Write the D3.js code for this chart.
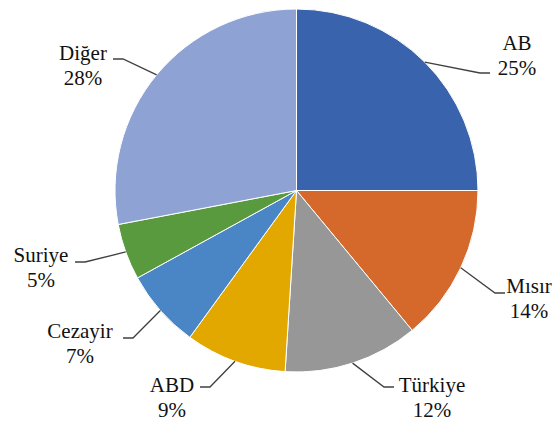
<!DOCTYPE html>
<html>
<head>
<meta charset="utf-8">
<script src="https://cdn.jsdelivr.net/npm/d3@7"></script>
<style>
html,body{margin:0;padding:0;background:#fff;}
svg{display:block;}
</style>
</head>
<body>
<svg id="chart" width="558" height="423"></svg>
<script>
// Data
const categories = ["AB", "Mısır", "Türkiye", "ABD", "Cezayir", "Suriye", "Diğer"];
const values = [25, 14, 12, 9, 7, 5, 28];
const percentLabels = ["25%", "14%", "12%", "9%", "7%", "5%", "28%"];
const colors = ["#3A63AD", "#D4692B", "#979797", "#E2A800", "#4A86C5", "#5A9A3F", "#8FA2D4"];

// Label layout (line end point, text centre, first baseline, elbow direction)
const labelLayout = [
  {ex: 490, ey: 73, tx: 517, ty: 50, elbow: -10},
  {ex: 505, ey: 293, tx: 529, ty: 293, elbow: -10},
  {ex: 394, ey: 387, tx: 432, ty: 392, elbow: -10},
  {ex: 200, ey: 387, tx: 172, ty: 392, elbow: 10},
  {ex: 123, ey: 338, tx: 80, ty: 338, elbow: 10},
  {ex: 75, ey: 262, tx: 41, ty: 262, elbow: 10},
  {ex: 113, ey: 59, tx: 83, ty: 60, elbow: 10}
];

const svg = d3.select("#chart");
const cx = 296.5, cy = 190.5, r = 181.5;
const g = svg.append("g").attr("transform", `translate(${cx},${cy})`);

const data = categories.map((c, i) => ({cat: c, value: values[i], pct: percentLabels[i], color: colors[i], lay: labelLayout[i]}));

const pie = d3.pie().value(d => d.value).sort(null);
const arc = d3.arc().innerRadius(0).outerRadius(r);
const arcs = pie(data);

g.selectAll("path.slice").data(arcs).enter().append("path")
  .attr("class", "slice")
  .attr("d", arc)
  .attr("fill", d => d.data.color)
  .attr("stroke", "#fff")
  .attr("stroke-width", 1);

// Leader lines
svg.selectAll("path.leader").data(arcs).enter().append("path")
  .attr("class", "leader")
  .attr("fill", "none")
  .attr("stroke", "#404040")
  .attr("stroke-width", 1.3)
  .attr("d", d => {
    const a = (d.startAngle + d.endAngle) / 2;
    const x0 = cx + r * Math.sin(a), y0 = cy - r * Math.cos(a);
    const L = d.data.lay;
    return `M${x0},${y0}L${L.ex + L.elbow},${L.ey}L${L.ex},${L.ey}`;
  });

// Labels
const labels = svg.selectAll("text.lbl").data(arcs).enter().append("text")
  .attr("class", "lbl")
  .attr("text-anchor", "middle")
  .style("font-family", "'Liberation Serif', serif", "important")
  .style("font-size", "21px")
  .attr("fill", "#111");
labels.append("tspan").attr("x", d => d.data.lay.tx).attr("y", d => d.data.lay.ty)
  .style("font-family", "'Liberation Serif', serif", "important").text(d => d.data.cat);
labels.append("tspan").attr("x", d => d.data.lay.tx).attr("y", d => d.data.lay.ty + 25)
  .style("font-family", "'Liberation Serif', serif", "important").text(d => d.data.pct);
</script>
</body>
</html>
